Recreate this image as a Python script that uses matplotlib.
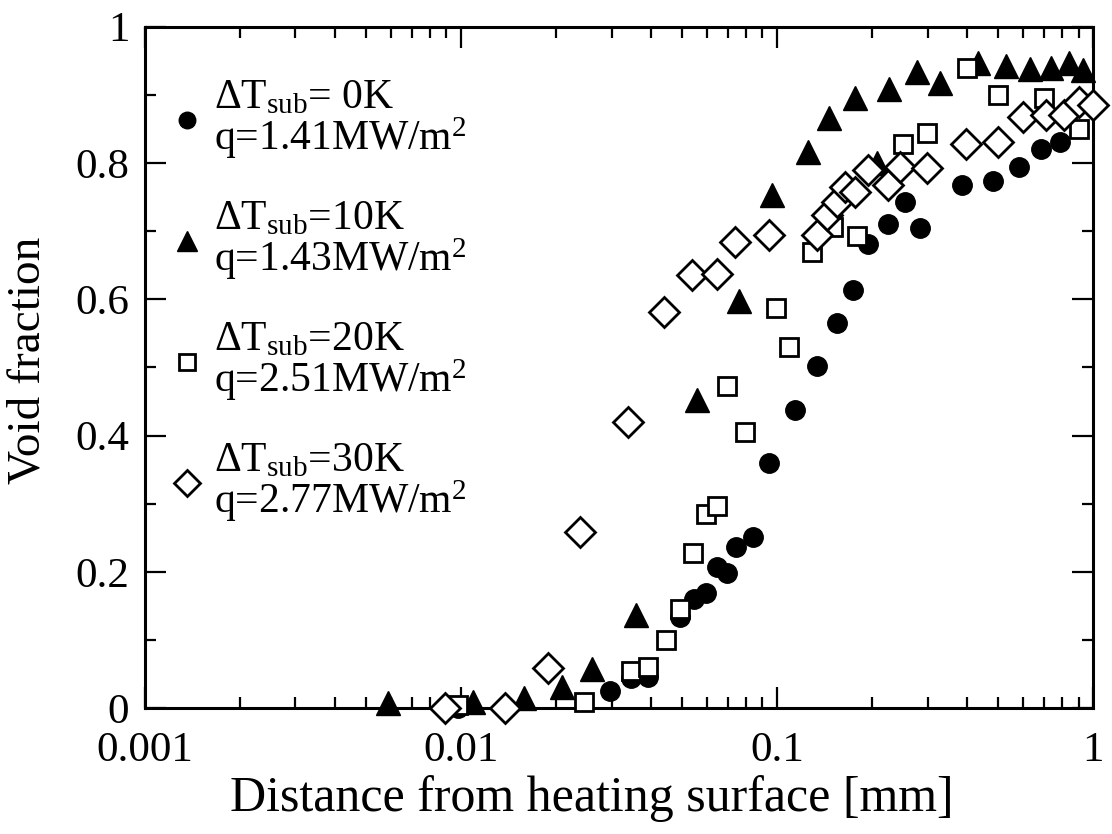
import matplotlib
matplotlib.use("Agg")
import matplotlib.pyplot as plt
from matplotlib.ticker import FixedLocator, FuncFormatter, MultipleLocator
import numpy as np

# dT_sub = 0K, q = 1.41MW/m2
x_0K = [0.0098, 0.0296, 0.0345, 0.039, 0.0493, 0.0546, 0.0596, 0.0646, 0.0695, 0.0742, 0.084, 0.0944,
        0.114, 0.134, 0.155, 0.174, 0.194, 0.224, 0.254, 0.284, 0.385, 0.483, 0.583, 0.684, 0.787]
y_0K = [0.0, 0.025, 0.044, 0.046, 0.134, 0.16, 0.169, 0.207, 0.198, 0.236, 0.251, 0.36,
        0.438, 0.502, 0.565, 0.614, 0.681, 0.711, 0.742, 0.705, 0.768, 0.774, 0.794, 0.82, 0.831]

# dT_sub = 10K, q = 1.43MW/m2
x_10K = [0.0059, 0.0109, 0.0158, 0.0209, 0.026, 0.0358, 0.0558, 0.0758, 0.0964, 0.125, 0.146,
         0.176, 0.207, 0.226, 0.277, 0.328, 0.433, 0.531, 0.632, 0.736, 0.839, 0.929]
y_10K = [0.007, 0.009, 0.015, 0.031, 0.057, 0.137, 0.452, 0.598, 0.753, 0.816, 0.866,
         0.896, 0.80, 0.909, 0.934, 0.918, 0.947, 0.943, 0.938, 0.940, 0.947, 0.937]

# dT_sub = 20K, q = 2.51MW/m2
x_20K = [0.0098, 0.0245, 0.0345, 0.039, 0.0445, 0.0493, 0.0543, 0.0596, 0.0646, 0.0695, 0.0792,
         0.0993, 0.109, 0.129, 0.150, 0.179, 0.25, 0.298, 0.399, 0.50, 0.70, 0.903]
y_20K = [0.004, 0.009, 0.054, 0.06, 0.10, 0.145, 0.228, 0.285, 0.297, 0.473, 0.405,
         0.587, 0.53, 0.67, 0.706, 0.693, 0.828, 0.844, 0.94, 0.90, 0.896, 0.85]

# dT_sub = 30K, q = 2.77MW/m2
x_30K = [0.0089, 0.0138, 0.0189, 0.0238, 0.0338, 0.0439, 0.0538, 0.0646, 0.0737, 0.0944, 0.134,
         0.144, 0.155, 0.164, 0.176, 0.194, 0.224, 0.245, 0.298, 0.397, 0.50, 0.60, 0.71, 0.81,
         0.90, 1.0]
y_30K = [0.0, 0.0, 0.059, 0.258, 0.42, 0.581, 0.636, 0.637, 0.684, 0.695, 0.695,
         0.724, 0.742, 0.764, 0.758, 0.79, 0.768, 0.794, 0.793, 0.828, 0.831, 0.868, 0.871, 0.871,
         0.89, 0.885]

labels = ["ΔT$_{\\rm sub}$= 0K\nq=1.41MW/m$^2$",
          "ΔT$_{\\rm sub}$=10K\nq=1.43MW/m$^2$",
          "ΔT$_{\\rm sub}$=20K\nq=2.51MW/m$^2$",
          "ΔT$_{\\rm sub}$=30K\nq=2.77MW/m$^2$"]

x_ticks = [0.001, 0.01, 0.1, 1]
x_tick_labels = ["0.001", "0.01", "0.1", "1"]
y_ticks = [0, 0.2, 0.4, 0.6, 0.8, 1]
y_tick_labels = ["0", "0.2", "0.4", "0.6", "0.8", "1"]

plt.rcParams["font.family"] = ["Liberation Serif", "DejaVu Serif"]
plt.rcParams["mathtext.fontset"] = "custom"
plt.rcParams["mathtext.rm"] = "Liberation Serif"
plt.rcParams["mathtext.it"] = "Liberation Serif:italic"
plt.rcParams["mathtext.bf"] = "Liberation Serif:bold"

fig = plt.figure(figsize=(11.12, 8.34), dpi=100)
ax = fig.add_axes([0.130, 0.151, 0.853, 0.817])

kw = dict(linestyle="none", clip_on=False, zorder=5)
ax.plot(x_0K, y_0K, marker="o", ms=14, mfc="black", mec="black", label=labels[0], **kw)
ax.plot(x_10K, y_10K, marker="^", ms=17, mfc="black", mec="black", label=labels[1], **kw)
ax.plot(x_20K, y_20K, marker="s", ms=13, mfc="white", mec="black", mew=2.0, label=labels[2], **kw)
ax.plot(x_30K, y_30K, marker="D", ms=15.5, mfc="white", mec="black", mew=2.0, label=labels[3], **kw)

ax.set_xscale("log")
ax.set_xlim(0.001, 1)
ax.set_ylim(0, 1)
ax.xaxis.set_major_locator(FixedLocator(x_ticks))
ax.xaxis.set_major_formatter(FuncFormatter(lambda v, p: x_tick_labels[x_ticks.index(v)] if v in x_ticks else ""))
ax.xaxis.set_minor_locator(FixedLocator([m * d for d in [0.001, 0.01, 0.1] for m in range(2, 10)]))
ax.xaxis.set_minor_formatter(FuncFormatter(lambda v, p: ""))
ax.yaxis.set_major_locator(FixedLocator(y_ticks))
ax.yaxis.set_major_formatter(FuncFormatter(lambda v, p: y_tick_labels[int(round(v * 5))]))
ax.yaxis.set_minor_locator(MultipleLocator(0.1))

ax.tick_params(which="both", direction="in", top=True, right=True, width=1.6, labelsize=31)
ax.tick_params(which="major", length=15)
ax.tick_params(which="minor", length=8)
ax.tick_params(axis="x", which="major", pad=17)
ax.tick_params(axis="y", which="major", pad=11)
for s in ax.spines.values():
    s.set_linewidth(2.2)

ax.set_xlabel("Distance from heating surface [mm]", fontsize=36)
ax.xaxis.set_label_coords(0.472, -0.098)
ax.set_ylabel("Void fraction", fontsize=34)
ax.yaxis.set_label_coords(-0.100, 0.51)

leg = ax.legend(loc="upper left", bbox_to_anchor=(-0.012, 0.979), frameon=False, fontsize=30,
                handlelength=0.8, handletextpad=0.25, labelspacing=0.92, borderaxespad=0.5,
                markerscale=0.85)
for t in leg.get_texts():
    t.set_linespacing(0.95)

plt.savefig("out.png", dpi=100)
